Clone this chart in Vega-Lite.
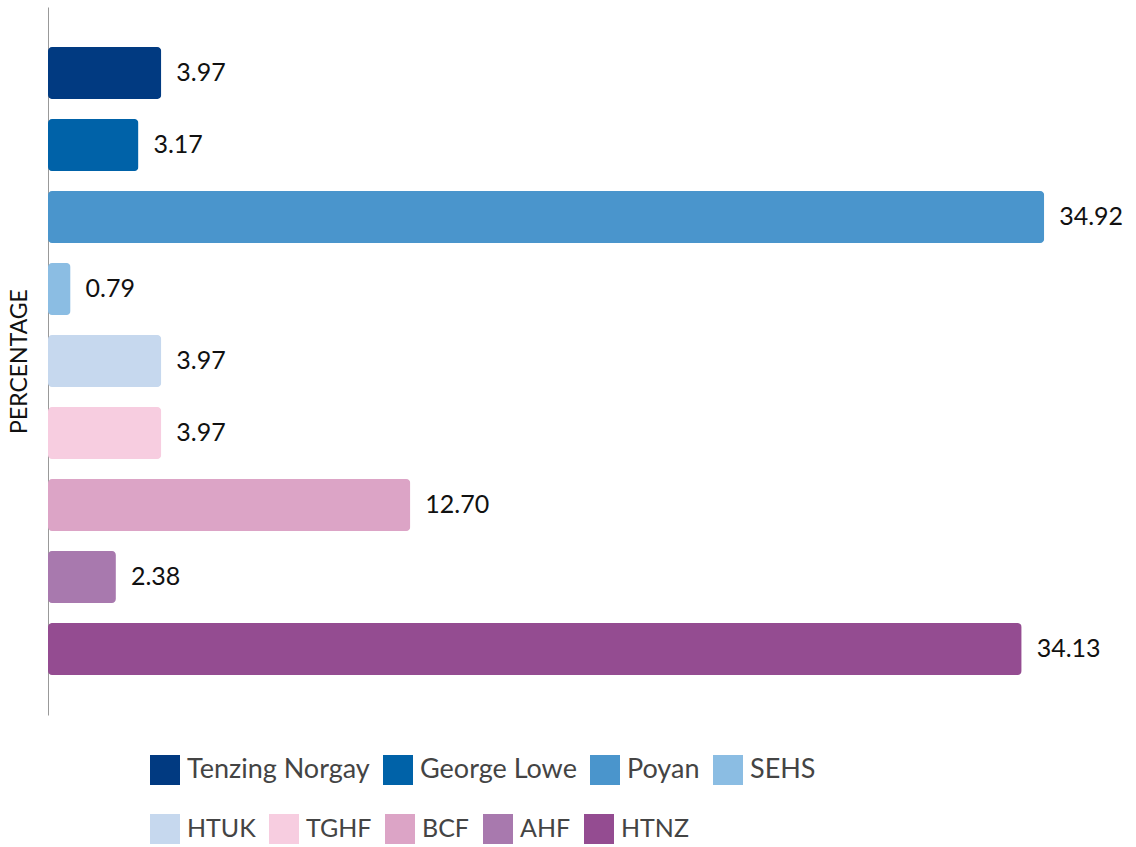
{
  "$schema": "https://vega.github.io/schema/vega-lite/v6.json",
  "width": 1027,
  "height": 708,
  "autosize": {"type": "none"},
  "padding": {"left": 48, "top": 7, "right": 61, "bottom": 132},
  "config": {"view": {"stroke": null}, "font": "Lato",
    "legend": {"symbolType": "square", "symbolSize": 900, "symbolStrokeWidth": 0, "symbolOpacity": 1, "labelFontSize": 27, "labelColor": "#444", "labelOffset": 7, "labelLimit": 0, "columnPadding": 13, "direction": "horizontal", "orient": "none", "padding": 0}},
  "data": {"values": [
    {"name": "Tenzing Norgay", "value": 3.97},
    {"name": "George Lowe", "value": 3.17},
    {"name": "Poyan", "value": 34.92},
    {"name": "SEHS", "value": 0.79},
    {"name": "HTUK", "value": 3.97},
    {"name": "TGHF", "value": 3.97},
    {"name": "BCF", "value": 12.70},
    {"name": "AHF", "value": 2.38},
    {"name": "HTNZ", "value": 34.13}
  ]},
  "encoding": {
    "y": {"field": "name", "type": "nominal",
      "sort": ["Tenzing Norgay", "George Lowe", "Poyan", "SEHS", "HTUK", "TGHF", "BCF", "AHF", "HTNZ"],
      "scale": {"paddingInner": 0.278, "paddingOuter": 0.556},
      "axis": {"title": "PERCENTAGE", "labels": false, "ticks": false, "domainColor": "#999", "domainWidth": 1, "titleFontSize": 23, "titleFontWeight": "normal", "titleColor": "#111", "titlePadding": 17}},
    "x": {"field": "value", "type": "quantitative", "scale": {"domain": [0, 36]}, "axis": null}
  },
  "layer": [
    {
      "transform": [{"filter": {"field": "name", "oneOf": ["Tenzing Norgay", "George Lowe", "Poyan", "SEHS"]}}],
      "mark": {"type": "bar", "cornerRadius": 4},
      "encoding": {
        "color": {"field": "name", "type": "nominal",
          "scale": {"domain": ["Tenzing Norgay", "George Lowe", "Poyan", "SEHS"], "range": ["#013a81", "#0062a8", "#4a95cc", "#8bbde3"]},
          "legend": {"title": null, "legendX": 102, "legendY": 748}}
      }
    },
    {
      "transform": [{"filter": {"field": "name", "oneOf": ["HTUK", "TGHF", "BCF", "AHF", "HTNZ"]}}],
      "mark": {"type": "bar", "cornerRadius": 4},
      "encoding": {
        "fill": {"field": "name", "type": "nominal",
          "scale": {"domain": ["HTUK", "TGHF", "BCF", "AHF", "HTNZ"], "range": ["#c6d8ee", "#f7cde0", "#dca4c6", "#a879ae", "#944c91"]},
          "legend": {"title": null, "legendX": 102, "legendY": 807, "labelFontSize": 25}}
      }
    },
    {
      "mark": {"type": "text", "align": "left", "baseline": "middle", "dx": 15, "fontSize": 25, "color": "#111"},
      "encoding": {"text": {"field": "value", "type": "quantitative", "format": ".2f"}}
    }
  ],
  "resolve": {"scale": {"color": "independent", "fill": "independent"}}
}
